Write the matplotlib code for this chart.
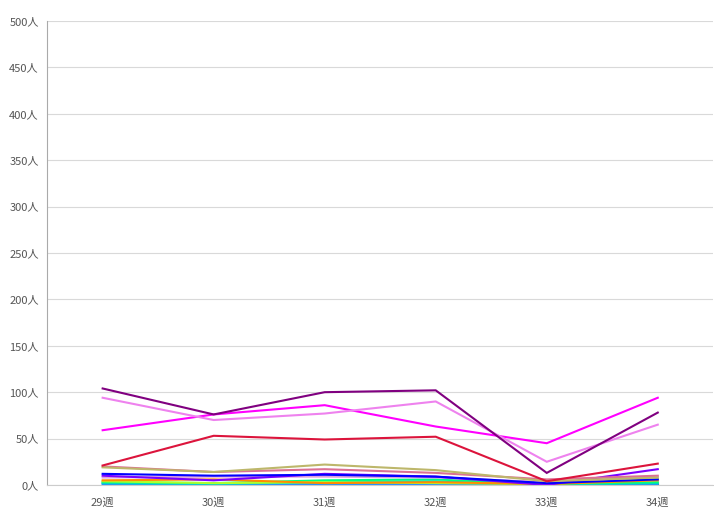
import matplotlib
matplotlib.use("Agg")
import matplotlib.pyplot as plt

plt.rcParams['font.family'] = ['Noto Sans CJK JP', 'DejaVu Sans']

weeks = ["29週", "30週", "31週", "32週", "33週", "34週"]

# one list per line, values in 人
purple = [104, 76, 100, 102, 13, 78]
violet = [94, 70, 77, 90, 25, 65]
magenta = [59, 76, 86, 63, 45, 94]
crimson = [21, 53, 49, 52, 4, 23]
khaki = [19, 14, 22, 16, 4, 8]
palevioletred = [20, 14, 17, 13, 6, 10]
blue = [12, 10, 11, 9, 2, 6]
blueviolet = [10, 5, 12, 9, 0, 17]
plum = [8, 9, 9, 8, 3, 9]
orange = [5, 6, 2, 3, 1, 5]
yellowgreen = [4, 2, 3, 2, 1, 6]
springgreen = [3, 2, 5, 6, 1, 3]
cyan = [2, 1, 3, 4, 0, 2]
dodgerblue = [1, 1, 1, 1, 0, 1]
green = [0, 0, 0, 0, 0, 0]

series = [
    (green, "#228B22"),
    (dodgerblue, "#1E90FF"),
    (cyan, "#00CED1"),
    (springgreen, "#00FF7F"),
    (yellowgreen, "#ADFF2F"),
    (orange, "#FF8C00"),
    (plum, "#DDA0DD"),
    (blueviolet, "#7B00FF"),
    (blue, "#0000FF"),
    (palevioletred, "#DB7093"),
    (khaki, "#BDB76B"),
    (crimson, "#DC143C"),
    (magenta, "#FF00FF"),
    (violet, "#EE82EE"),
    (purple, "#800080"),
]

fig = plt.figure(figsize=(7.14, 5.26), dpi=100)
ax = fig.add_axes([0.066, 0.078, 0.933, 0.882])

x = list(range(len(weeks)))
for vals, col in series:
    ax.plot(x, vals, color=col, linewidth=1.5, solid_joinstyle='miter')

ax.set_xlim(-0.5, len(weeks) - 0.5)
ax.set_ylim(0, 500)
ax.set_yticks(range(0, 501, 50))
ax.set_yticklabels([f"{v}人" for v in range(0, 501, 50)])
ax.set_xticks(x)
ax.set_xticklabels(weeks)

ax.grid(axis='y', color='#d9d9d9', linewidth=0.8)
ax.set_axisbelow(True)
for s in ['top', 'right']:
    ax.spines[s].set_visible(False)
ax.spines['left'].set_color('#aaaaaa')
ax.spines['bottom'].set_color('#cccccc')
ax.tick_params(length=0, labelsize=8, colors='#555555')
ax.tick_params(axis='x', pad=9)
ax.tick_params(axis='y', pad=6)

fig.savefig("out.png", dpi=100)
